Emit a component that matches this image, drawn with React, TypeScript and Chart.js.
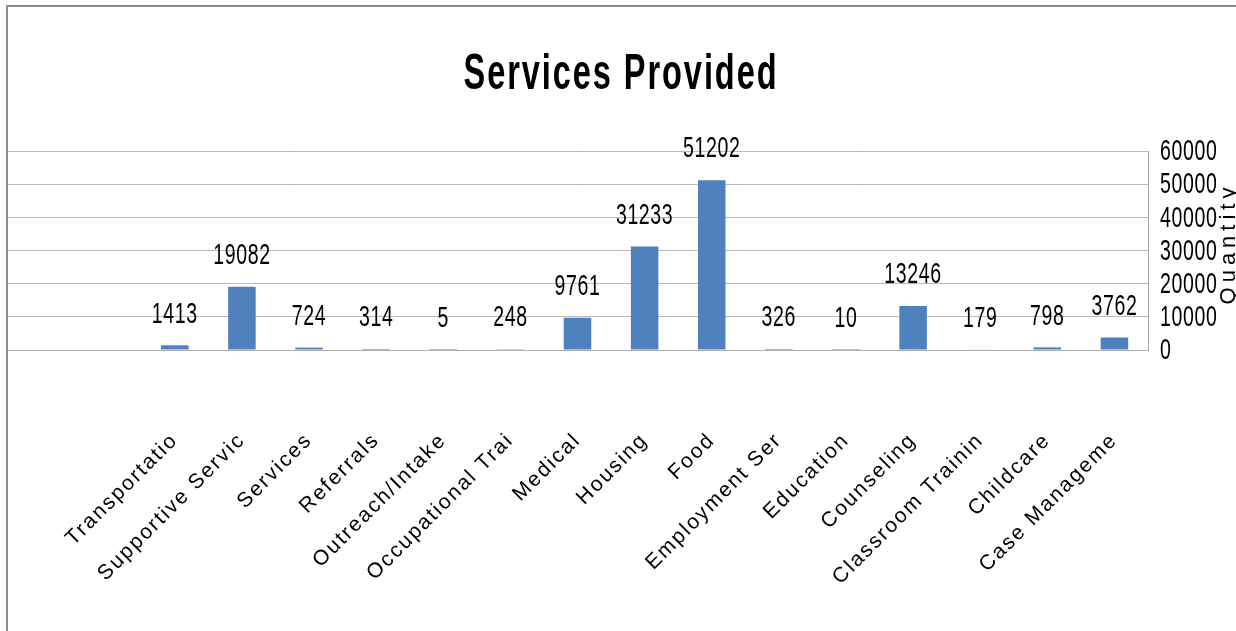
import React, { useEffect, useRef } from "react";
import { Chart, registerables } from "chart.js";

Chart.register(...registerables);

const FONT = "'Liberation Sans', Arial, sans-serif";

const chartTitle = "Services Provided";
const axisTitle = "Quantity";

const categories = [
  "",
  "",
  "Transportatio",
  "Supportive Servic",
  "Services",
  "Referrals",
  "Outreach/Intake",
  "Occupational Trai",
  "Medical",
  "Housing",
  "Food",
  "Employment Ser",
  "Education",
  "Counseling",
  "Classroom Trainin",
  "Childcare",
  "Case Manageme",
];

const quantities: (number | null)[] = [
  null, null, 1413, 19082, 724, 314, 5, 248, 9761, 31233, 51202, 326, 10, 13246, 179, 798, 3762,
];

const yTickValues = [0, 10000, 20000, 30000, 40000, 50000, 60000];
const yTickLabels = ["0", "10000", "20000", "30000", "40000", "50000", "60000"];

const CANVAS_W = 1236;
const CANVAS_H = 640;
const CONDENSE = 0.65;

function condensedText(ctx: CanvasRenderingContext2D, text: string, x: number, y: number, align: CanvasTextAlign) {
  ctx.save();
  ctx.translate(x, y);
  ctx.scale(CONDENSE, 1);
  ctx.textAlign = align;
  ctx.fillText(text, 0, 0);
  ctx.restore();
}

export default function App() {
  const ref = useRef<HTMLCanvasElement>(null);

  useEffect(() => {
    const canvas = ref.current;
    if (!canvas) return;

    const textPlugin = {
      id: "texts",
      beforeDraw(chart: any) {
        chart.ctx.letterSpacing = "2px";
      },
      afterDatasetsDraw(chart: any) {
        const ctx = chart.ctx;
        const meta = chart.getDatasetMeta(0);
        ctx.save();
        ctx.font = `30px ${FONT}`;
        ctx.fillStyle = "#000";
        ctx.textBaseline = "middle";
        ctx.letterSpacing = "1px";
        meta.data.forEach((el: any, i: number) => {
          const v = quantities[i];
          if (v == null) return;
          condensedText(ctx, String(v), el.x, el.y - 31, "center");
        });
        // y tick labels
        const ys = chart.scales.y;
        yTickValues.forEach((v, i) => {
          condensedText(ctx, yTickLabels[i], ys.left + 12, ys.getPixelForValue(v) + 1, "left");
        });
        ctx.restore();
      },
      afterDraw(chart: any) {
        const ctx = chart.ctx;
        const a = chart.chartArea;
        ctx.save();
        ctx.fillStyle = "#000";
        ctx.font = `bold 50px ${FONT}`;
        ctx.letterSpacing = "3px";
        ctx.textBaseline = "alphabetic";
        condensedText(ctx, chartTitle, 614, 84, "center");
        ctx.restore();

        ctx.save();
        ctx.fillStyle = "#000";
        ctx.font = `22px ${FONT}`;
        ctx.letterSpacing = "5px";
        ctx.textAlign = "center";
        ctx.textBaseline = "alphabetic";
        ctx.translate(a.right + 87, (a.top + a.bottom) / 2 - 7);
        ctx.rotate(-Math.PI / 2);
        ctx.fillText(axisTitle, 0, 0);
        ctx.restore();
      },
    };

    const chart = new Chart(canvas, {
      type: "bar",
      data: {
        labels: categories,
        datasets: [
          {
            data: quantities,
            backgroundColor: "#4f81bd",
            barPercentage: 0.41,
            categoryPercentage: 1,
          },
        ],
      },
      options: {
        animation: false,
        responsive: true,
        maintainAspectRatio: false,
        layout: { padding: { top: 146, left: 0, right: 0, bottom: 0 } },
        plugins: {
          legend: { display: false },
          title: { display: false },
          tooltip: { enabled: false },
        },
        scales: {
          x: {
            offset: true,
            grid: {
              display: true,
              color: "rgba(0,0,0,0)",
              drawTicks: true,
              tickLength: 75,
            },
            border: { display: true, color: "#b0b0b0" },
            ticks: {
              autoSkip: false,
              minRotation: 45,
              maxRotation: 45,
              padding: 3,
              color: "#000",
              font: { family: FONT, size: 21 },
            },
            afterFit(s: any) {
              s.height = 295;
            },
          },
          y: {
            position: "right",
            min: 0,
            max: 60000,
            grid: { color: "#b9b9b9", drawTicks: false },
            border: { display: true, color: "#a6a6a6", width: 1 },
            ticks: {
              display: false,
              stepSize: 10000,
              autoSkip: false,
            },
            afterFit(s: any) {
              s.width = 95;
            },
          },
        },
      },
      plugins: [textPlugin],
    } as any);

    return () => chart.destroy();
  }, []);

  return (
    <div
      style={{
        position: "fixed",
        left: 0,
        top: 0,
        width: 1236,
        height: 631,
        overflow: "hidden",
        background: "#fff",
      }}
    >
      <div
        style={{
          position: "absolute",
          left: 7,
          top: 5,
          width: CANVAS_W,
          height: CANVAS_H,
        }}
      >
        <canvas ref={ref} />
      </div>
      <div
        style={{
          position: "absolute",
          left: 6,
          top: 5,
          width: 1300,
          height: 700,
          borderTop: "2px solid #8c8c8c",
          borderLeft: "2px solid #8c8c8c",
          pointerEvents: "none",
        }}
      />
    </div>
  );
}
